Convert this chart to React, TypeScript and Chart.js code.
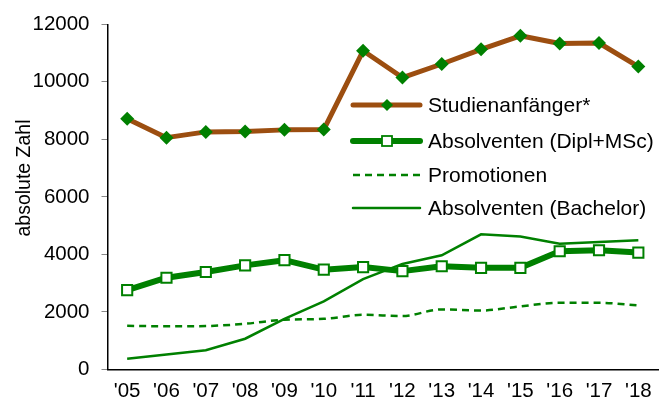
import React, { useEffect, useRef } from 'react';
import { Chart, registerables } from 'chart.js';

Chart.register(...registerables);

const years = ["'05", "'06", "'07", "'08", "'09", "'10", "'11", "'12", "'13", "'14", "'15", "'16", "'17", "'18"];
const studienanfaenger = [8720, 8060, 8260, 8270, 8330, 8340, 11080, 10150, 10620, 11130, 11600, 11330, 11350, 10530];
const absolventenDipl = [2760, 3190, 3390, 3620, 3800, 3470, 3560, 3420, 3590, 3535, 3535, 4110, 4145, 4065];
const promotionen = [1520, 1500, 1510, 1590, 1730, 1760, 1900, 1860, 2090, 2050, 2195, 2320, 2320, 2230];
const bachelor = [370, 520, 670, 1070, 1760, 2370, 3140, 3670, 3970, 4700, 4625, 4375, 4430, 4490];
const seriesLabels = ['Studienanfänger*', 'Absolventen (Dipl+MSc)', 'Promotionen', 'Absolventen (Bachelor)'];
const yTitle = 'absolute Zahl';

const FONT = '"Liberation Sans", Arial, Helvetica, sans-serif';
const BROWN = '#9C4E10';
const GREEN = '#008000';

export default function App() {
  const ref = useRef<HTMLCanvasElement>(null);

  useEffect(() => {
    if (!ref.current) return;

    const overlayPlugin = {
      id: 'overlay',
      afterDraw(chart: any) {
        const ctx = chart.ctx as CanvasRenderingContext2D;
        // y-axis title
        ctx.save();
        ctx.translate(25, 178);
        ctx.rotate(-Math.PI / 2);
        ctx.font = `19.5px ${FONT}`;
        ctx.fillStyle = '#000';
        ctx.textAlign = 'center';
        ctx.textBaseline = 'middle';
        ctx.fillText(yTitle, 0, 0);
        ctx.restore();

        // legend
        const x0 = 353, x1 = 420, mx = 387, tx = 428;
        const rows = [105, 141, 175, 208];
        chart.data.datasets.forEach((ds: any, i: number) => {
          const y = rows[i];
          ctx.save();
          ctx.strokeStyle = ds.borderColor;
          ctx.lineWidth = ds.borderWidth;
          ctx.setLineDash(ds.borderDash || []);
          ctx.lineCap = ds.borderDash ? 'butt' : 'round';
          ctx.beginPath();
          ctx.moveTo(x0, y);
          ctx.lineTo(x1, y);
          ctx.stroke();
          ctx.setLineDash([]);
          if (ds.pointStyle === 'rectRot' && ds.pointRadius > 0) {
            ctx.fillStyle = ds.pointBackgroundColor;
            ctx.beginPath();
            ctx.moveTo(mx, y - 6);
            ctx.lineTo(mx + 6, y);
            ctx.lineTo(mx, y + 6);
            ctx.lineTo(mx - 6, y);
            ctx.closePath();
            ctx.fill();
          } else if (ds.pointStyle === 'rect' && ds.pointRadius > 0) {
            ctx.fillStyle = '#fff';
            ctx.fillRect(mx - 5, y - 5, 10, 10);
            ctx.strokeStyle = GREEN;
            ctx.lineWidth = 1.8;
            ctx.strokeRect(mx - 5, y - 5, 10, 10);
          }
          ctx.font = `21px ${FONT}`;
          ctx.fillStyle = '#000';
          ctx.textAlign = 'left';
          ctx.textBaseline = 'middle';
          ctx.fillText(ds.label, tx, y + 1);
          ctx.restore();
        });
      },
    };

    const chart = new Chart(ref.current, {
      type: 'line',
      data: {
        labels: years,
        datasets: [
          {
            label: seriesLabels[0],
            data: studienanfaenger,
            borderColor: BROWN,
            borderWidth: 5,
            pointStyle: 'rectRot',
            pointRadius: 7,
            pointBackgroundColor: GREEN,
            pointBorderColor: GREEN,
            pointBorderWidth: 0,
            tension: 0,
            borderJoinStyle: 'round',
          },
          {
            label: seriesLabels[1],
            data: absolventenDipl,
            borderColor: GREEN,
            borderWidth: 6,
            pointStyle: 'rect',
            pointRadius: 7.2,
            pointBackgroundColor: '#fff',
            pointBorderColor: GREEN,
            pointBorderWidth: 2,
            tension: 0,
            borderJoinStyle: 'round',
          },
          {
            label: seriesLabels[2],
            data: promotionen,
            borderColor: GREEN,
            borderWidth: 2.5,
            borderDash: [7, 5],
            pointRadius: 0,
            pointStyle: 'line',
            cubicInterpolationMode: 'monotone',
          },
          {
            label: seriesLabels[3],
            data: bachelor,
            borderColor: GREEN,
            borderWidth: 2.5,
            pointRadius: 0,
            pointStyle: 'line',
            tension: 0,
          },
        ],
      } as any,
      options: {
        responsive: false,
        animation: false,
        layout: { padding: { left: 0, right: 12, top: 19, bottom: 0 } },
        plugins: {
          legend: { display: false },
          tooltip: { enabled: false },
          title: { display: false },
        },
        scales: {
          x: {
            offset: true,
            grid: { display: true, drawOnChartArea: false, drawTicks: false },
            border: { display: true, color: '#000', width: 1.5 },
            ticks: {
              color: '#000',
              font: { family: FONT, size: 20.5 },
              padding: 10,
              maxRotation: 0,
              autoSkip: false,
            },
            afterFit(scale: any) {
              scale.height = 35.5;
            },
          },
          y: {
            min: 0,
            max: 12000,
            grid: { display: true, drawOnChartArea: false, drawTicks: true, tickLength: 6, color: '#888' },
            border: { display: true, color: '#000', width: 1.5 },
            ticks: {
              stepSize: 2000,
              color: '#000',
              font: { family: FONT, size: 20.5 },
              padding: 12,
              callback: (v: any) => String(v),
            },
            afterFit(scale: any) {
              scale.width = 107.5;
            },
          },
        },
      } as any,
      plugins: [overlayPlugin],
    });

    return () => chart.destroy();
  }, []);

  return (
    <div style={{ position: 'absolute', left: 0, top: 0, width: 670, height: 405, background: '#fff' }}>
      <canvas ref={ref} width={670} height={405} />
    </div>
  );
}
